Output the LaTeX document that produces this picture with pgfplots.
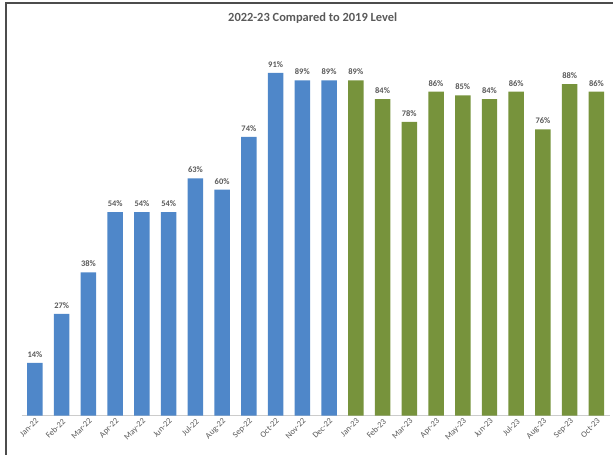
\documentclass[border=0pt]{standalone}
\usepackage{pgfplots}
\pgfplotsset{compat=1.18}
\usepackage{fontspec}
\setmainfont{Carlito}
\definecolor{barblue}{HTML}{4F87C9}
\definecolor{bargreen}{HTML}{77933C}
\definecolor{txtgray}{HTML}{595959}
\begin{document}
\begin{tikzpicture}[x=1bp,y=1bp]
\path (0,0) rectangle (614,459);
\draw[line width=1.2bp, color=black!70] (6,4) -- (6,456) -- (614,456);
\node[font=\fontsize{12.5}{14}\selectfont\bfseries, text=txtgray] at (313,441) {2022-23 Compared to 2019 Level};
\begin{axis}[
  at={(21.6bp,43bp)}, anchor=south west,
  scale only axis, width=588.8bp, height=377bp,
  xmin=-0.5, xmax=21.5, ymin=0, ymax=100,
  axis x line=bottom, axis y line=none,
  x axis line style={draw=gray!40, line width=0.8pt, -},
  xtick={0,...,21},
  xticklabels={Jan-22,Feb-22,Mar-22,Apr-22,May-22,Jun-22,Jul-22,Aug-22,Sep-22,Oct-22,Nov-22,Dec-22,Jan-23,Feb-23,Mar-23,Apr-23,May-23,Jun-23,Jul-23,Aug-23,Sep-23,Oct-23},
  xticklabel style={font=\fontsize{8.5}{9}\selectfont, text=txtgray, inner sep=1.5pt},
  xticklabel style={rotate=45, anchor=north east},
  major tick length=0pt,
  /pgf/number format/assume math mode=true,
  ybar, bar width=15.5bp, bar shift=0pt,
  nodes near coords={\pgfmathprintnumber{\pgfplotspointmeta}\%},
  every node near coord/.append style={font=\fontsize{8.5}{9}\selectfont\bfseries, text=txtgray, yshift=2pt},
  clip=false,
]
\addplot[fill=barblue, draw=none] coordinates {
(0,14) (1,27) (2,38) (3,54) (4,54) (5,54) (6,63) (7,60) (8,74) (9,91) (10,89) (11,89)};
\addplot[fill=bargreen, draw=none] coordinates {
(12,89) (13,84) (14,78) (15,86) (16,85) (17,84) (18,86) (19,76) (20,88) (21,86)};
\end{axis}
\end{tikzpicture}
\end{document}
